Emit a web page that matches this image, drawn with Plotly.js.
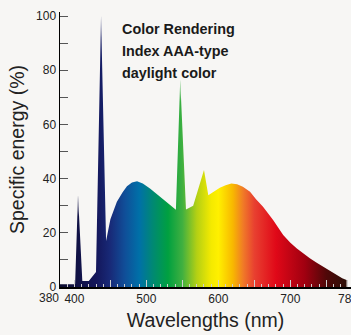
<!DOCTYPE html>
<html>
<head>
<meta charset="utf-8">
<script src="https://cdn.plot.ly/plotly-3.0.1.min.js"></script>
<style>
html,body{margin:0;padding:0;background:#f7f6f4;}
#chart{width:351px;height:335px;}
</style>
</head>
<body>
<div id="chart"></div>
<script>
// Wavelength (nm)
const wavelength = [380, 398, 401, 405, 411, 420, 430, 437, 444, 450, 459, 467, 473, 480, 487, 495, 505, 519, 533, 541, 547, 555, 565, 580, 586, 594, 602, 610, 618, 626, 634, 644, 652, 662, 676, 690, 700, 709, 718, 727, 736, 746, 755, 764, 772, 778];
// Specific energy (%)
const energy = [1, 1, 1, 34, 2.2, 2.2, 5.5, 100, 17, 25, 31.5, 35, 37.2, 38.6, 39, 38.2, 36.4, 33.3, 30.3, 28.5, 76.5, 28.6, 30, 43.2, 33.9, 35.3, 36.6, 37.6, 38.2, 37.9, 37, 35.2, 32.5, 29.6, 24.7, 19.2, 16.3, 14.2, 12.3, 10.6, 9, 7.4, 5.9, 4.4, 3.2, 2.6];

// Spectrum colours (wavelength stop, colour)
const spectrumStops = [380, 430, 450, 470, 490, 510, 530, 550, 570, 590, 600, 620, 635, 650, 680, 720, 750, 780];
const spectrumColors = ['#0c0c30', '#14165a', '#182a78', '#104e98', '#0070a8', '#008a70', '#00a040', '#40b040', '#b4d014', '#f4ea00', '#fff000', '#f8b800', '#f07828', '#e84030', '#e00818', '#a00010', '#500808', '#2a1008'];

const xTickVals = [400, 450, 500, 550, 600, 650, 700, 750, 780];
const xTickText = ['400', '', '500', '', '600', '', '700', '', '780'];
const xFirstLabel = '380';
const yTickVals = [0, 10, 20, 30, 40, 50, 60, 70, 80, 90, 100];
const yTickText = ['0', '', '20', '', '40', '', '60', '', '80', '', '100'];
const noteLines = ['Color Rendering', 'Index AAA-type', 'daylight color'];

const xMin = 380, xMax = 780;
const colorscale = spectrumStops.map((s, i) => [(s - xMin) / (xMax - xMin), spectrumColors[i]]);

const bg = '#f7f6f4';
const font = 'Liberation Sans, Arial, Helvetica, sans-serif';

const traces = [
  {
    x: wavelength, y: energy, type: 'scatter', mode: 'lines',
    line: {width: 0, color: 'rgba(0,0,0,0)'},
    fill: 'tozeroy',
    fillgradient: {type: 'horizontal', start: xMin, stop: xMax, colorscale: colorscale},
    hoverinfo: 'skip', showlegend: false
  }
];

// Soft fade on the tips of the sharp emission lines
for (let i = 1; i < energy.length - 1; i++) {
  const e = energy[i];
  if (e > energy[i - 1] + 10 && e > energy[i + 1] + 10) {
    traces.push({
      x: wavelength.slice(i - 1, i + 2), y: energy.slice(i - 1, i + 2),
      type: 'scatter', mode: 'lines',
      line: {width: 0, color: 'rgba(0,0,0,0)'},
      fill: 'tozeroy',
      fillgradient: {type: 'vertical', start: e - 8, stop: e,
        colorscale: [[0, 'rgba(247,246,244,0)'], [1, 'rgba(247,246,244,0.9)']]},
      hoverinfo: 'skip', showlegend: false
    });
  }
}

const annotations = noteLines.map((t, i) => ({
  text: t, xref: 'paper', yref: 'paper',
  x: (120 - 60) / 291, xanchor: 'left',
  y: 1 - ((29 + 22 * i) - 12) / 275, yanchor: 'middle',
  showarrow: false, align: 'left',
  font: {family: font, size: 14.4, color: '#1a1a1a', weight: 700}
}));
annotations.push({
  text: xFirstLabel, xref: 'x', yref: 'paper', x: xMin, y: 0,
  xanchor: 'right', yanchor: 'top', xshift: 0, yshift: -3, showarrow: false,
  borderpad: 0,
  font: {family: font, size: 12, color: '#222'}
});

const layout = {
  width: 351, height: 335,
  margin: {l: 60, r: 0, t: 12, b: 48, pad: 0},
  paper_bgcolor: bg, plot_bgcolor: bg,
  showlegend: false,
  xaxis: {
    range: [xMin, 784.2], showgrid: false, zeroline: false,
    showline: true, linecolor: '#000', linewidth: 2,
    ticks: 'inside', ticklen: 7, tickwidth: 1, tickcolor: '#cfcfcf',
    tickvals: xTickVals, ticktext: xTickText, tickangle: 0,
    ticklabeloverflow: 'allow',
    minor: {ticks: 'inside', dtick: 10, tick0: 380, ticklen: 3.5, tickwidth: 1, tickcolor: '#cfcfcf', showgrid: false},
    tickfont: {family: font, size: 12, color: '#222'},
    layer: 'above traces',
    title: {text: 'Wavelengths (nm)', font: {family: font, size: 19.5, color: '#222'}, standoff: 8}
  },
  yaxis: {
    range: [0, 101.5], showgrid: false, zeroline: false,
    showline: true, linecolor: '#000', linewidth: 1.5,
    ticks: 'inside', ticklen: 8, tickwidth: 1, tickcolor: '#555',
    tickvals: yTickVals, ticktext: yTickText,
    tickfont: {family: font, size: 12, color: '#222'},
    layer: 'above traces',
    title: {text: 'Specific energy (%)', font: {family: font, size: 19.5, color: '#222'}, standoff: 6}
  },
  annotations: annotations
};

Plotly.newPlot('chart', traces, layout, {displayModeBar: false, staticPlot: true});
</script>
</body>
</html>
